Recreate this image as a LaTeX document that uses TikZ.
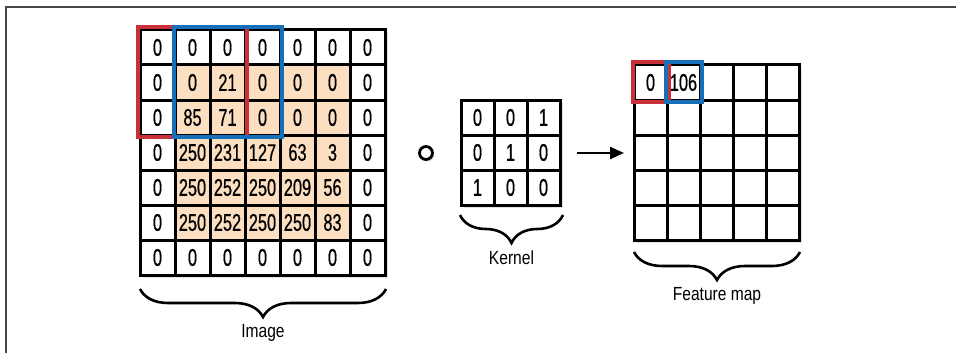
\documentclass[tikz,border=0pt]{standalone}
\usepackage{fontspec}
\setmainfont{Liberation Sans}[FakeStretch=0.82]
\newfontfamily\cellfont{Liberation Sans}[FakeStretch=0.68, FakeBold=0.6]
\usepackage{tikz}
\usetikzlibrary{arrows.meta,calc,positioning,shadows}
\usetikzlibrary{decorations.pathreplacing}
\definecolor{peach}{RGB}{252,223,192}
\definecolor{winred}{RGB}{200,49,58}
\definecolor{winblue}{RGB}{21,112,185}
\definecolor{framegray}{RGB}{70,70,70}

\tikzset{
  imgcell/.style={draw, line width=3pt, inner sep=0pt, minimum width=35pt, minimum height=35pt,
    font=\cellfont\fontsize{24}{26}\selectfont},
  narrowcell/.style={imgcell, minimum width=33pt},
  gridshadow/.style={fill=white, drop shadow={shadow xshift=3pt, shadow yshift=-3pt, opacity=0.22}},
  brace/.style={decorate, decoration={brace, mirror, amplitude=28pt}, line width=2.6pt},
  bracelabel/.style={font=\fontsize{19}{22}\selectfont}
}

\begin{document}
\begin{tikzpicture}[x=1pt, y=-1pt]
  \useasboundingbox (0,0) rectangle (956,353);
  \draw[framegray, line width=1.8pt] (6,353) -- (6,7) -- (956,7);

  % image
  \fill[gridshadow] (140,30) rectangle (385,275);
  \fill[peach] (175,65) rectangle (350,240);
  \foreach \row [count=\r from 0] in {{0,0,0,0,0,0,0},{0,0,21,0,0,0,0},{0,85,71,0,0,0,0},
      {0,250,231,127,63,3,0},{0,250,252,250,209,56,0},{0,250,252,250,250,83,0},{0,0,0,0,0,0,0}}
    \foreach \v [count=\c from 0] in \row
      \node[imgcell] (img-\r-\c) at ({157.5+35*\c},{47.5+35*\r}) {\v};
  \draw[winred, line width=4pt] ($(img-0-0.north west)+(-1,-1)$) rectangle (img-2-2.south east);
  \draw[winblue, line width=4pt] ($(img-0-1.north west)+(0,-1)$) rectangle (img-2-3.south east);

  % operator
  \node[circle, draw, line width=2.8pt, minimum size=13pt, inner sep=0pt, fill=white,
    drop shadow={shadow xshift=2pt, shadow yshift=-2pt, opacity=0.22}] (op) at (426,153) {};

  % kernel
  \fill[gridshadow] (461,100) rectangle (560,205);
  \foreach \row [count=\r from 0] in {{0,0,1},{0,1,0},{1,0,0}}
    \foreach \v [count=\c from 0] in \row
      \node[narrowcell] (ker-\r-\c) at ({477.5+33*\c},{117.5+35*\r}) {\v};

  % arrow
  \coordinate (arrS) at (577,153);
  \coordinate (arrE) at (624,153);
  \draw[line width=2.4pt, -{Triangle[length=14pt, width=12pt]}] (arrS) -- (arrE);

  % feature map
  \fill[gridshadow] (634,65) rectangle (799,240);
  \foreach \r in {0,...,4}
    \foreach \c in {0,...,4}
      \node[narrowcell] (fm-\r-\c) at ({650.5+33*\c},{82.5+35*\r}) {};
  \node[font=\cellfont\fontsize{24}{26}\selectfont] (fmval-a) at (fm-0-0) {0};
  \node[font=\cellfont\fontsize{24}{26}\selectfont] (fmval-b) at (fm-0-1) {106};
  \draw[winred, line width=4pt] ($(fm-0-0.north west)+(0,-1)$) rectangle (fm-0-0.south east);
  \draw[winblue, line width=4pt] ($(fm-0-1.north west)+(0,-1)$) rectangle (fm-0-1.south east);

  % braces
  \coordinate (imgL) at (140,289);
  \coordinate (imgR) at (386,289);
  \draw[brace] (imgL) -- (imgR) node[midway, below=31pt, bracelabel] (imglabel) {Image};
  \coordinate (kerL) at (460,215);
  \coordinate (kerR) at (563,215);
  \draw[brace] (kerL) -- (kerR) node[midway, below=31pt, bracelabel] (kerlabel) {Kernel};
  \coordinate (fmL) at (634,252);
  \coordinate (fmR) at (800,252);
  \draw[brace] (fmL) -- (fmR) node[midway, below=31pt, bracelabel] (fmlabel) {Feature map};
\end{tikzpicture}
\end{document}
